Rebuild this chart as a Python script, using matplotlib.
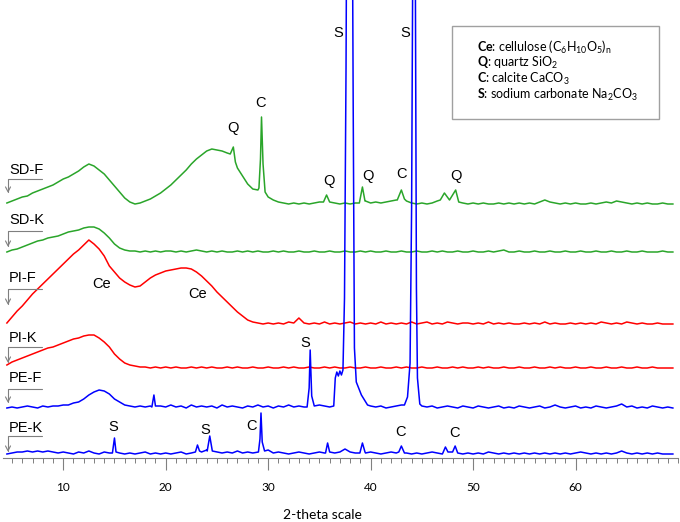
import numpy as np
import matplotlib
matplotlib.use("Agg")
import matplotlib.pyplot as plt
from matplotlib.ticker import MultipleLocator, FixedLocator
from matplotlib.patches import Rectangle

plt.rcParams['font.family'] = ['Liberation Sans', 'DejaVu Sans']
plt.rcParams['mathtext.fontset'] = 'custom'
plt.rcParams['mathtext.rm'] = 'Lato'
plt.rcParams['mathtext.it'] = 'Lato'
plt.rcParams['mathtext.bf'] = 'Lato:bold'

# 2-theta grid for the smooth background of every pattern (deg)
theta = np.arange(4.5, 69.6, 0.5)

# background intensity above each pattern's own baseline (a.u.), one value per grid step
sdf_base = [1, 3, 5, 7, 8, 11, 13, 15, 17, 19,
            22, 25, 27, 30, 33, 37, 40, 38, 34, 30,
            24, 18, 12, 6, 2, 0, 1, 3, 5, 8,
            11, 15, 19, 24, 29, 34, 40, 45, 49, 53,
            55, 54, 53, 51, 49, 36, 28, 20, 15, 14,
            20, 7, 4, 2, 1, 0, 1, 0, 1, 0,
            1, 2, 4, 3, 1, 0, 1, 0, 1, 2,
            3, 1, 2, 1, 2, 3, 4, 6, 3, 1,
            0, 1, 0, 1, 3, 6, 4, 4, 4, 1,
            0, 1, 0, 1, 0, 0, 1, 0, 1, 0,
            1, 0, 1, 0, 2, 4, 2, 1, 0, 1,
            0, 1, 0, 0, 1, 0, 1, 2, 1, 3,
            2, 1, 0, 1, 0, 1, 0, 0, 1, 0,
            0]
sdk_base = [0, 2, 3, 5, 7, 9, 11, 12, 14, 15,
            16, 18, 20, 21, 22, 24, 25, 25, 23, 19,
            14, 8, 4, 2, 1, 1, 0, 1, 0, 1,
            0, 1, 1, 0, 1, 0, 1, 2, 1, 0,
            1, 0, 1, 0, 0, 1, 0, 1, 0, 1,
            0, 0, 1, 0, 1, 0, 0, 1, 0, 0,
            1, 0, 0, 1, 0, 0, 1, 0, 0, 1,
            0, 1, 0, 0, 1, 0, 0, 1, 0, 0,
            1, 0, 0, 1, 0, 1, 0, 0, 1, 0,
            0, 1, 0, 0, 1, 0, 1, 2, 0, 0,
            1, 0, 0, 1, 0, 0, 1, 0, 0, 1,
            0, 0, 1, 0, 0, 1, 0, 0, 1, 0,
            0, 1, 0, 0, 1, 0, 0, 0, 1, 0,
            0]
pif_base = [1, 7, 13, 18, 24, 30, 35, 40, 45, 50,
            55, 60, 65, 70, 74, 79, 84, 80, 75, 68,
            58, 52, 46, 42, 39, 37, 38, 42, 46, 49,
            51, 53, 54, 55, 56, 56, 55, 52, 48, 43,
            38, 32, 27, 22, 17, 12, 8, 4, 2, 1,
            0, 1, 0, 1, 0, 2, 1, 6, 1, 0,
            1, 0, 2, 0, 1, 0, 1, 2, 0, 1,
            0, 1, 0, 2, 0, 1, 0, 1, 0, 2,
            0, 1, 2, 0, 1, 0, 2, 1, 0, 1,
            1, 0, 1, 0, 2, 0, 1, 0, 1, 0,
            0, 1, 0, 1, 0, 2, 0, 1, 0, 0,
            1, 0, 1, 0, 1, 0, 2, 1, 0, 1,
            0, 2, 1, 0, 1, 0, 0, 1, 0, 0,
            0]
pik_base = [3, 6, 8, 10, 12, 14, 16, 18, 20, 21,
            23, 25, 27, 29, 30, 32, 33, 33, 30, 26,
            21, 14, 9, 5, 3, 2, 1, 1, 0, 1,
            0, 1, 0, 1, 0, 0, 1, 0, 1, 0,
            1, 0, 0, 1, 0, 1, 0, 0, 1, 0,
            0, 1, 0, 0, 1, 0, 1, 0, 0, 1,
            0, 0, 1, 0, 1, 0, 0, 1, 0, 0,
            1, 0, 0, 1, 0, 0, 1, 0, 1, 0,
            0, 1, 0, 0, 1, 0, 0, 1, 0, 1,
            0, 0, 1, 0, 1, 0, 0, 1, 0, 0,
            1, 0, 0, 1, 0, 0, 1, 0, 1, 0,
            0, 1, 0, 0, 1, 0, 0, 1, 0, 0,
            1, 0, 0, 1, 0, 0, 1, 0, 0, 0,
            0]
pef_base = [0, 1, 0, 1, 2, 1, 0, 2, 1, 2,
            2, 3, 3, 5, 6, 9, 13, 16, 18, 17,
            14, 9, 6, 3, 2, 1, 2, 1, 2, 1,
            2, 1, 3, 1, 2, 0, 3, 1, 2, 1,
            2, 0, 3, 1, 2, 1, 0, 2, 1, 3,
            1, 2, 0, 2, 1, 3, 1, 2, 1, 2,
            1, 3, 2, 1, 1, 35, 80, 999, 30, 13,
            4, 2, 1, 2, 0, 1, 2, 3, 8, 200,
            20, 2, 1, 2, 0, 1, 2, 1, 0, 2,
            1, 0, 2, 1, 0, 1, 2, 0, 1, 0,
            2, 1, 0, 1, 2, 0, 1, 3, 1, 0,
            1, 2, 0, 1, 0, 2, 1, 0, 1, 2,
            4, 1, 2, 0, 1, 0, 2, 1, 0, 1,
            0]
pek_base = [0, 1, 2, 2, 3, 2, 3, 2, 3, 2,
            1, 2, 1, 0, 2, 1, 3, 1, 0, 2,
            1, 0, 1, 0, 1, 0, 1, 2, 0, 1,
            0, 1, 0, 1, 2, 0, 1, 3, 2, 4,
            3, 2, 1, 2, 1, 3, 1, 2, 1, 2,
            2, 4, 1, 2, 1, 0, 1, 2, 1, 0,
            1, 2, 1, 2, 1, 2, 5, 2, 1, 2,
            1, 2, 1, 0, 1, 2, 1, 2, 1, 0,
            1, 0, 1, 2, 1, 0, 1, 1, 2, 0,
            1, 0, 1, 0, 2, 1, 0, 1, 0, 1,
            0, 1, 0, 1, 0, 1, 0, 1, 0, 1,
            0, 1, 2, 1, 0, 1, 0, 1, 0, 1,
            3, 1, 0, 1, 0, 1, 0, 1, 0, 0,
            0]

# sharp reflections: (2-theta, intensity) points, replace the background in their span
sdf_peaks = [
    [(26.3, 50), (26.6, 57), (26.8, 42)],
    [(29.1, 16), (29.25, 45), (29.35, 87), (29.5, 40), (29.7, 12)],
    [(35.4, 2), (35.7, 9), (36.0, 2)],
    [(38.9, 1), (39.2, 17), (39.45, 3)],
    [(42.6, 4), (43.0, 14), (43.3, 5)],
    [(46.8, 4), (47.2, 11), (47.7, 4), (48.3, 14), (48.6, 2)],
]
sdk_peaks = []
pif_peaks = []
pik_peaks = []
pef_peaks = [
    [(18.65, 1), (18.85, 13), (19.0, 2)],
    [(33.8, 1), (34.0, 20), (34.1, 58), (34.25, 12), (34.5, 2)],
    [(36.4, 2), (36.55, 30), (36.7, 36), (36.85, 32), (37.0, 37), (37.15, 33),
     (37.3, 38), (37.45, 110), (37.6, 340), (37.75, 700), (37.95, 1300),
     (38.15, 650), (38.3, 300), (38.42, 60), (38.6, 26), (39.1, 13), (39.7, 3)],
    [(43.3, 3), (43.6, 11), (43.85, 45), (44.0, 200), (44.1, 420), (44.23, 1300),
     (44.37, 420), (44.47, 120), (44.57, 30), (44.8, 4)],
]
pek_peaks = [
    [(14.8, 1), (15.0, 16), (15.15, 2)],
    [(22.9, 2), (23.1, 9), (23.3, 3)],
    [(24.05, 3), (24.3, 18), (24.55, 3)],
    [(29.05, 2), (29.2, 15), (29.3, 41), (29.42, 12), (29.65, 3)],
    [(35.6, 1), (35.8, 11), (36.0, 2)],
    [(38.95, 1), (39.2, 11), (39.45, 2)],
    [(42.75, 2), (43.0, 8), (43.3, 1)],
    [(47.05, 1), (47.3, 7), (47.55, 2)],
    [(48.0, 2), (48.25, 8), (48.5, 1)],
]

names = ['SD-F', 'SD-K', 'PI-F', 'PI-K', 'PE-F', 'PE-K']
bases = [sdf_base, sdk_base, pif_base, pik_base, pef_base, pek_base]
peaks = [sdf_peaks, sdk_peaks, pif_peaks, pik_peaks, pef_peaks, pek_peaks]
offsets = [254, 206, 134, 90, 50, 4]
colors = ['#2aa52a', '#2aa52a', '#ff0000', '#ff0000', '#0000ff', '#0000ff']


def build(base, groups):
    n = min(len(theta), len(base))
    x = np.array(theta[:n], dtype=float)
    y = np.array(base[:n], dtype=float)
    keep = np.ones(n, dtype=bool)
    for g in groups:
        gx = [p[0] for p in g]
        keep &= ~((x >= min(gx)) & (x <= max(gx)))
    px = list(x[keep]) + [p[0] for g in groups for p in g]
    py = list(y[keep]) + [p[1] for g in groups for p in g]
    order = np.argsort(px)
    return np.array(px)[order], np.array(py)[order]


fig = plt.figure(figsize=(6.8, 5.22), dpi=100)
ax = fig.add_axes([3 / 680, 64 / 522, 675 / 680, 458 / 522])

for name, base, grp, off, col in zip(names, bases, peaks, offsets, colors):
    x, y = build(base, grp)
    ax.plot(x, y + off, color=col, lw=1.1)

ax.set_xlim(4.12, 70.0)
ax.set_ylim(0, 458)

# sample names with the bent arrows pointing at each pattern
label_y = [288, 238, 180, 120, 80, 30]
line_y = [279, 227, 169, 111, 69, 22]
tip_y = [265, 211, 153, 95, 55, 6]
for name, ly, hy, ty in zip(names, label_y, line_y, tip_y):
    ax.text(4.71, ly, name, fontsize=10.5, ha='left', va='center')
    ax.annotate('', xy=(4.61, ty), xytext=(7.93, hy),
                arrowprops=dict(arrowstyle='->,head_length=0.35,head_width=0.18',
                                color='#7f7f7f', lw=0.8, shrinkA=0, shrinkB=0,
                                connectionstyle='angle,angleA=0,angleB=90,rad=0'))

# phase letters above the reflections
peak_labels = [
    ('Q', 26.57, 330), ('C', 29.30, 355), ('Q', 35.94, 277), ('Q', 39.74, 282),
    ('C', 43.06, 284), ('Q', 48.33, 282),
    ('S', 36.82, 425), ('S', 43.35, 425),
    ('Ce', 13.78, 174), ('Ce', 23.15, 164),
    ('S', 33.59, 115),
    ('S', 14.86, 31), ('S', 23.84, 28), ('C', 28.42, 32), ('C', 42.96, 26), ('C', 48.14, 25),
]
for txt, px, py in peak_labels:
    ax.text(px, py, txt, fontsize=10.5, ha='center', va='center')

for s in ['top', 'left', 'right']:
    ax.spines[s].set_visible(False)
ax.spines['bottom'].set_color('#808080')
ax.yaxis.set_visible(False)
ax.xaxis.set_major_locator(FixedLocator([10, 20, 30, 40, 50, 60]))
ax.xaxis.set_minor_locator(MultipleLocator(1))
ax.tick_params(axis='x', which='major', direction='out', length=8.6, width=0.8,
               color='#808080', pad=9, labelsize=8.5)
ax.tick_params(axis='x', which='minor', direction='out', length=3.6, width=0.7,
               color='#808080')
for lab in ax.get_xticklabels():
    lab.set_family('Lato')

fig.text(322 / 680, 1 - 515 / 522, '2-theta scale', fontsize=10, family='Lato',
         ha='center', va='center')

# legend box of phases
fig.patches.append(Rectangle((452 / 680, 1 - 119 / 522), 207 / 680, 93 / 522,
                             transform=fig.transFigure, fill=False,
                             edgecolor='#a0a0a0', lw=1.0))
legend_lines = [
    r'$\bf{Ce}$: cellulose (C$_6$H$_{10}$O$_5$)$_\mathrm{n}$',
    r'$\bf{Q}$: quartz SiO$_2$',
    r'$\bf{C}$: calcite CaCO$_3$',
    r'$\bf{S}$: sodium carbonate Na$_2$CO$_3$',
]
for i, t in enumerate(legend_lines):
    fig.text(477 / 680, 1 - (47 + 16 * i) / 522, t, fontsize=9, family='Lato',
             ha='left', va='center')

fig.savefig('out.png', dpi=100)
